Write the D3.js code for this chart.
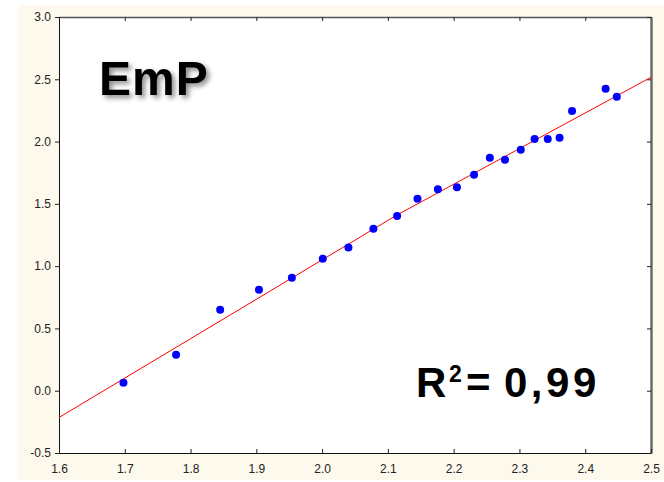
<!DOCTYPE html>
<html>
<head>
<meta charset="utf-8">
<script src="https://cdn.jsdelivr.net/npm/d3@7"></script>
<style>
  html, body { margin: 0; padding: 0; background: #fff; }
  svg { display: block; }
</style>
</head>
<body>
<svg id="chart"></svg>
<script>
// values
const xValues = [1.698, 1.778, 1.845, 1.904, 1.954, 2.001, 2.040, 2.078, 2.114, 2.145, 2.176,
                 2.205, 2.231, 2.255, 2.278, 2.302, 2.323, 2.343, 2.361, 2.380, 2.431, 2.448];
const yValues = [0.064, 0.289, 0.650, 0.811, 0.907, 1.060, 1.150, 1.301, 1.403, 1.541, 1.617,
                 1.633, 1.734, 1.871, 1.854, 1.935, 2.021, 2.021, 2.031, 2.245, 2.424, 2.360];
// red fit line as it appears in the picture (read at both edges and the middle)
const fitLine = [[1.6, -0.215], [2.114, 1.411], [2.5, 2.516]];
const xTicks = [1.6, 1.7, 1.8, 1.9, 2.0, 2.1, 2.2, 2.3, 2.4, 2.5];
const yTicks = [-0.5, 0.0, 0.5, 1.0, 1.5, 2.0, 2.5, 3.0];
const titleText = "EmP";
const r2Value = "0,99";

function main() {
    const width = 664, height = 482;
    const svg = d3.select("svg#chart")
        .attr("width", width)
        .attr("height", height)
        .style("font-family", "'Liberation Sans', Arial, sans-serif");

    // cream frame + white plot area
    svg.append("rect")
        .attr("x", 18).attr("y", 5)
        .attr("width", width - 18).attr("height", 475)
        .attr("fill", "#fdf9ed");
    svg.append("rect")
        .attr("x", 59).attr("y", 17)
        .attr("width", 592).attr("height", 436)
        .attr("fill", "#fff");

    const x = d3.scaleLinear().domain([1.6, 2.5]).range([59, 651]);
    const y = d3.scaleLinear().domain([-0.5, 3.0]).range([453, 17]);
    const fmt = d => d.toFixed(1);

    // top + right axes (ticks inside, no labels)
    const top = svg.append("g").attr("transform", "translate(0,17)")
        .call(d3.axisTop(x).tickValues(xTicks).tickSizeInner(-4).tickSizeOuter(0).tickFormat(""));
    top.select(".domain").attr("stroke", "#555").attr("stroke-width", 1.5);
    const right = svg.append("g").attr("transform", "translate(651,0)")
        .call(d3.axisRight(y).tickValues(yTicks).tickSizeInner(-4).tickSizeOuter(0).tickFormat(""));
    right.select(".domain").attr("stroke", "#6a6a6a").attr("stroke-width", 2.5);

    // left axis (ticks out) and bottom axis (ticks in)
    const left = svg.append("g").attr("transform", "translate(59,0)")
        .call(d3.axisLeft(y).tickValues(yTicks).tickSize(4).tickPadding(4).tickFormat(fmt));
    const bottom = svg.append("g").attr("transform", "translate(0,453)")
        .call(d3.axisBottom(x).tickValues(xTicks).tickSizeInner(-4).tickSizeOuter(0)
            .tickPadding(11).tickFormat(fmt));
    [left, bottom].forEach(g => {
        g.selectAll("text")
            .attr("font-size", 12)
            .attr("font-family", "'Liberation Sans', Arial, sans-serif")
            .attr("fill", "#222");
        g.select(".domain").attr("stroke", "#111");
    });
    svg.selectAll(".tick line").attr("stroke", "#222");

    // regression line
    svg.append("path")
        .datum(fitLine)
        .attr("d", d3.line().x(d => x(d[0])).y(d => y(d[1])))
        .attr("fill", "none")
        .attr("stroke", "#ff0000")
        .attr("stroke-width", 1);

    // points
    svg.append("g").selectAll("circle")
        .data(xValues.map((v, i) => [v, yValues[i]]))
        .join("circle")
        .attr("cx", d => x(d[0]))
        .attr("cy", d => y(d[1]))
        .attr("r", 4)
        .attr("fill", "#0000ff");

    // title with soft shadow
    const defs = svg.append("defs");
    const f = defs.append("filter").attr("id", "shadow")
        .attr("x", "-20%").attr("y", "-20%").attr("width", "150%").attr("height", "150%");
    f.append("feDropShadow")
        .attr("dx", 3).attr("dy", 3).attr("stdDeviation", 2.5)
        .attr("flood-color", "#000").attr("flood-opacity", 0.45);
    svg.append("text")
        .attr("x", 99).attr("y", 95)
        .attr("font-size", 48)
        .attr("font-weight", "bold")
        .attr("letter-spacing", 1)
        .attr("fill", "#000")
        .attr("filter", "url(#shadow)")
        .text(titleText);

    // R^2 annotation
    const r2 = svg.append("text")
        .attr("y", 397)
        .attr("font-size", 42)
        .attr("font-weight", "bold")
        .attr("fill", "#000");
    r2.append("tspan").attr("x", 416).text("R");
    r2.append("tspan").attr("x", 449).attr("dy", -15).attr("font-size", 23).text("2");
    r2.append("tspan").attr("x", 466).attr("dy", 15).text("=");
    r2.append("tspan").attr("x", 504).attr("letter-spacing", 3.5).text(r2Value);
}

main()
</script>
</body>
</html>
